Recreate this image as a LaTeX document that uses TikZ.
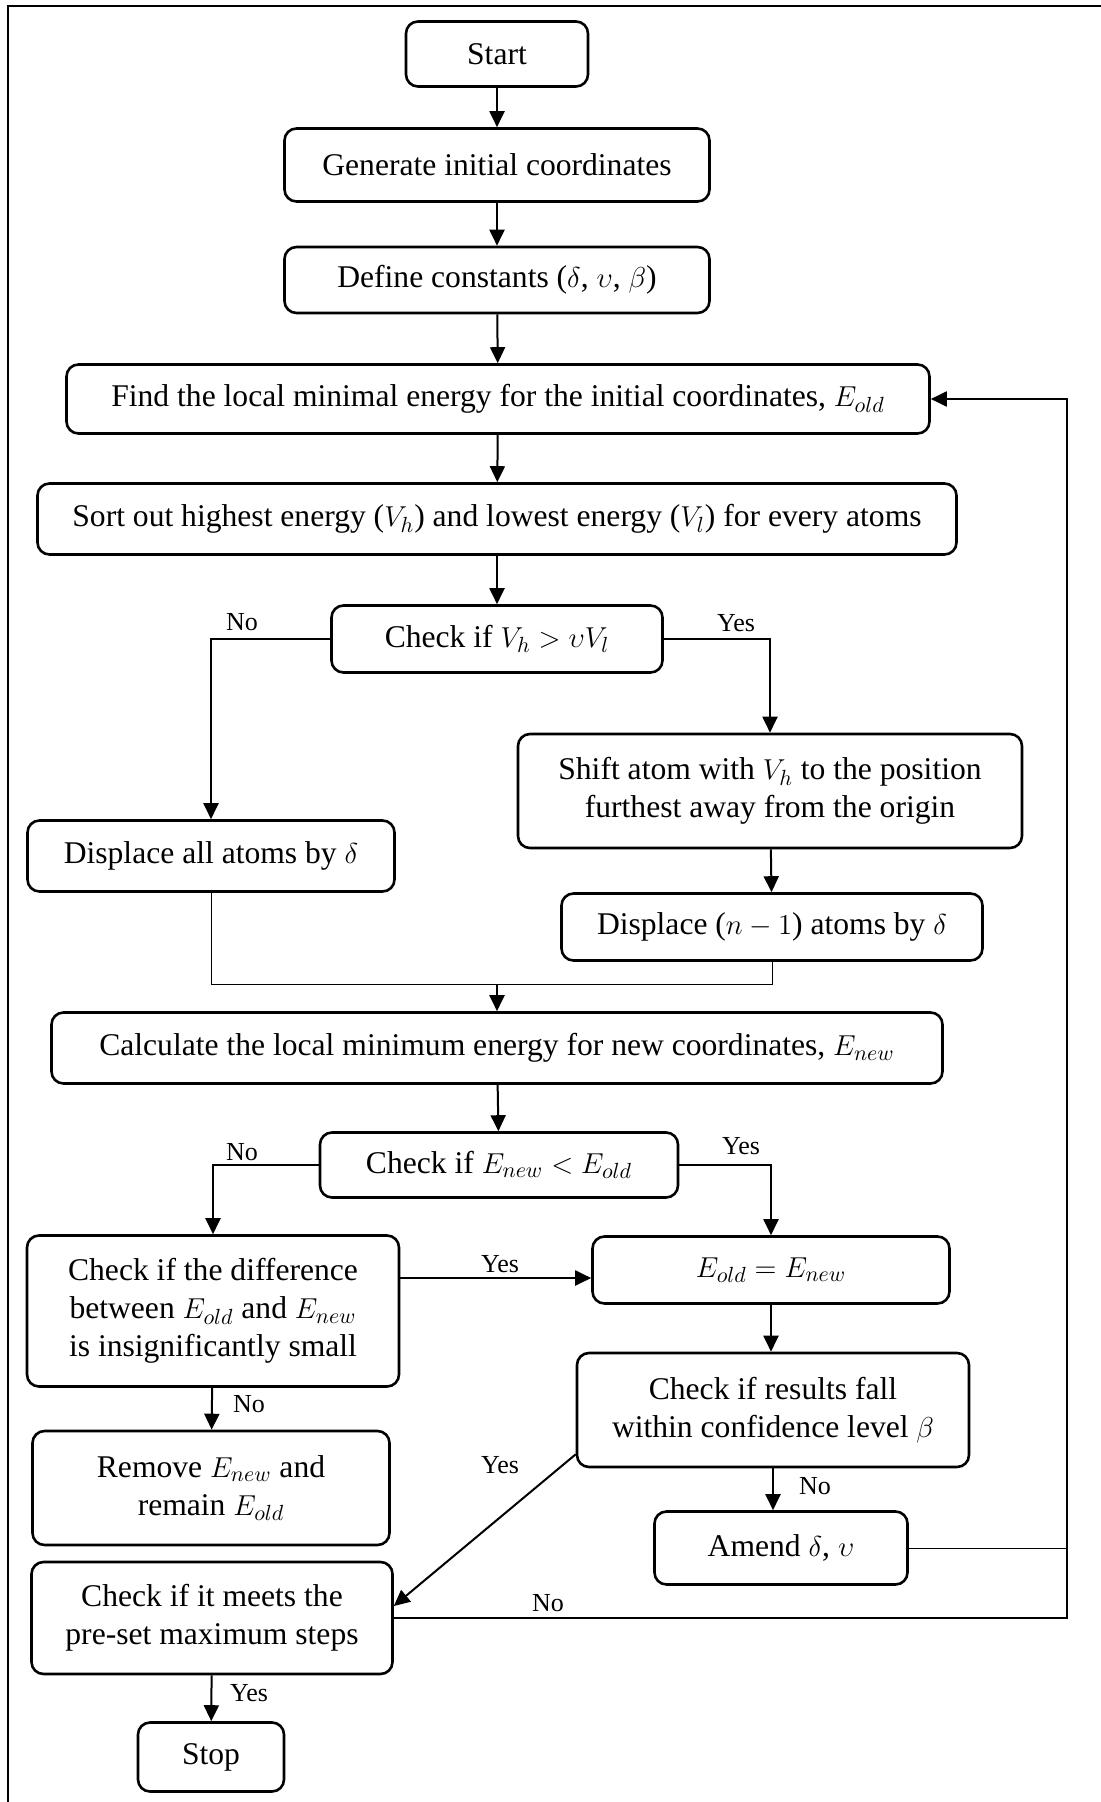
\documentclass[tikz,border=0pt]{standalone}
\usepackage{fontspec}
\setmainfont{Liberation Serif}
\usetikzlibrary{arrows.meta,positioning,calc}
\tikzset{box/.style={draw,line width=1.3pt,rounded corners=6pt,align=center,
  font=\fontsize{15.8}{19}\selectfont,inner sep=2pt},
  arrow/.style={-{Triangle[length=8pt,width=7.5pt]},line width=1pt},
  thinline/.style={line width=0.5pt},
  lbl/.style={font=\fontsize{13}{15}\selectfont,inner sep=0pt}}

\begin{document}
\begin{tikzpicture}[x=0.5pt,y=-0.5pt]
\useasboundingbox (0,0) rectangle (1101,1802);
\draw[line width=1.2pt] (8,1802)--(8,6)--(1101,6);
\node[box,minimum width=91pt,minimum height=32.5pt] (start) at (497,54){Start};
\node[box,minimum width=212.5pt,minimum height=36.5pt] (gen) at (497,165){Generate initial coordinates};
\node[box,minimum width=212.5pt,minimum height=33pt] (const) at (497,280){Define constants ($\delta$, $\upsilon$, $\beta$)};
\node[box,minimum width=431.5pt,minimum height=34.5pt] (find) at (498,399){Find the local minimal energy for the initial coordinates, $E_{old}$};
\node[box,minimum width=459.5pt,minimum height=35.5pt] (sort) at (497,519){Sort out highest energy ($V_h$) and lowest energy ($V_l$) for every atoms};
\node[box,minimum width=165.5pt,minimum height=33.5pt] (chkv) at (497,639){Check if $V_h > \upsilon V_l$};
\node[box,minimum width=252pt,minimum height=57pt] (shift) at (770,791){Shift atom with $V_h$ to the position\\furthest away from the origin};
\node[box,minimum width=183.5pt,minimum height=35.5pt] (dall) at (211,856){Displace all atoms by $\delta$};
\node[box,minimum width=210.5pt,minimum height=33.5pt] (dn) at (772,927){Displace ($n-1$) atoms by $\delta$};
\node[box,minimum width=445.5pt,minimum height=35.5pt] (calc) at (497,1048){Calculate the local minimum energy for new coordinates, $E_{new}$};
\node[box,minimum width=179pt,minimum height=32.5pt] (chke) at (499,1165){Check if $E_{new} < E_{old}$};
\node[box,minimum width=186pt,minimum height=75.5pt] (diff) at (213,1311){Check if the difference\\between $E_{old}$ and $E_{new}$\\is insignificantly small};
\node[box,minimum width=178.5pt,minimum height=33.5pt] (upd) at (771,1270){$E_{old} = E_{new}$};
\node[box,minimum width=196pt,minimum height=57pt] (conf) at (773,1410){Check if results fall\\within confidence level $\beta$};
\node[box,minimum width=178.5pt,minimum height=57pt] (remove) at (211,1488){Remove $E_{new}$ and\\remain $E_{old}$};
\node[box,minimum width=126.5pt,minimum height=36.5pt] (amend) at (781,1548){Amend $\delta$, $\upsilon$};
\node[box,minimum width=180.5pt,minimum height=56pt] (maxs) at (212,1618){Check if it meets the\\pre-set maximum steps};
\node[box,minimum width=73pt,minimum height=34.5pt] (stop) at (211,1757){Stop};
\coordinate (mrg) at (497,984);
\coordinate (rx) at (1067,0);
\draw[arrow] (start)--(gen);
\draw[arrow] (gen)--(const);
\draw[arrow] (const)--(find);
\draw[arrow] (find)--(sort);
\draw[arrow] (sort)--(chkv);
\draw[arrow] (chkv.west)-|(dall.north);
\draw[arrow] (chkv.east)-|(shift.north);
\draw[arrow] (shift)--(dn);
\draw[thinline] (dall.south)|-(mrg);
\draw[thinline] (dn.south)|-(mrg);
\draw[arrow] (mrg)--(calc.north);
\draw[arrow] (calc)--(chke);
\draw[arrow] (chke.west)-|(diff.north);
\draw[arrow] (chke.east)-|(upd.north);
\draw[arrow] ([yshift=16.5pt]diff.east)--([yshift=16.5pt]diff.east-|upd.west);
\draw[arrow] (upd)--(upd|-conf.north);
\draw[arrow] (diff)--(remove);
\draw[arrow] (conf.south)--(conf.south|-amend.north);
\draw[arrow] ([yshift=7pt]conf.south west)--([yshift=6pt]maxs.east);
\draw[arrow] (maxs)--(stop);
\draw[arrow] (maxs.east)-|(rx|-find.east)--(find.east);
\draw[thinline] (amend.east)--(amend.east-|rx);
\node[lbl] (no1) at (242,622){No};
\node[lbl] (yes1) at (736,623){Yes};
\node[lbl] (no2) at (242,1152){No};
\node[lbl] (yes2) at (741,1146){Yes};
\node[lbl] (yes3) at (500,1264){Yes};
\node[lbl] (no3) at (249,1404){No};
\node[lbl] (yes4) at (500,1465){Yes};
\node[lbl] (no4) at (815,1486){No};
\node[lbl] (no5) at (548,1603){No};
\node[lbl] (yes5) at (249,1693){Yes};
\end{tikzpicture}
\end{document}
